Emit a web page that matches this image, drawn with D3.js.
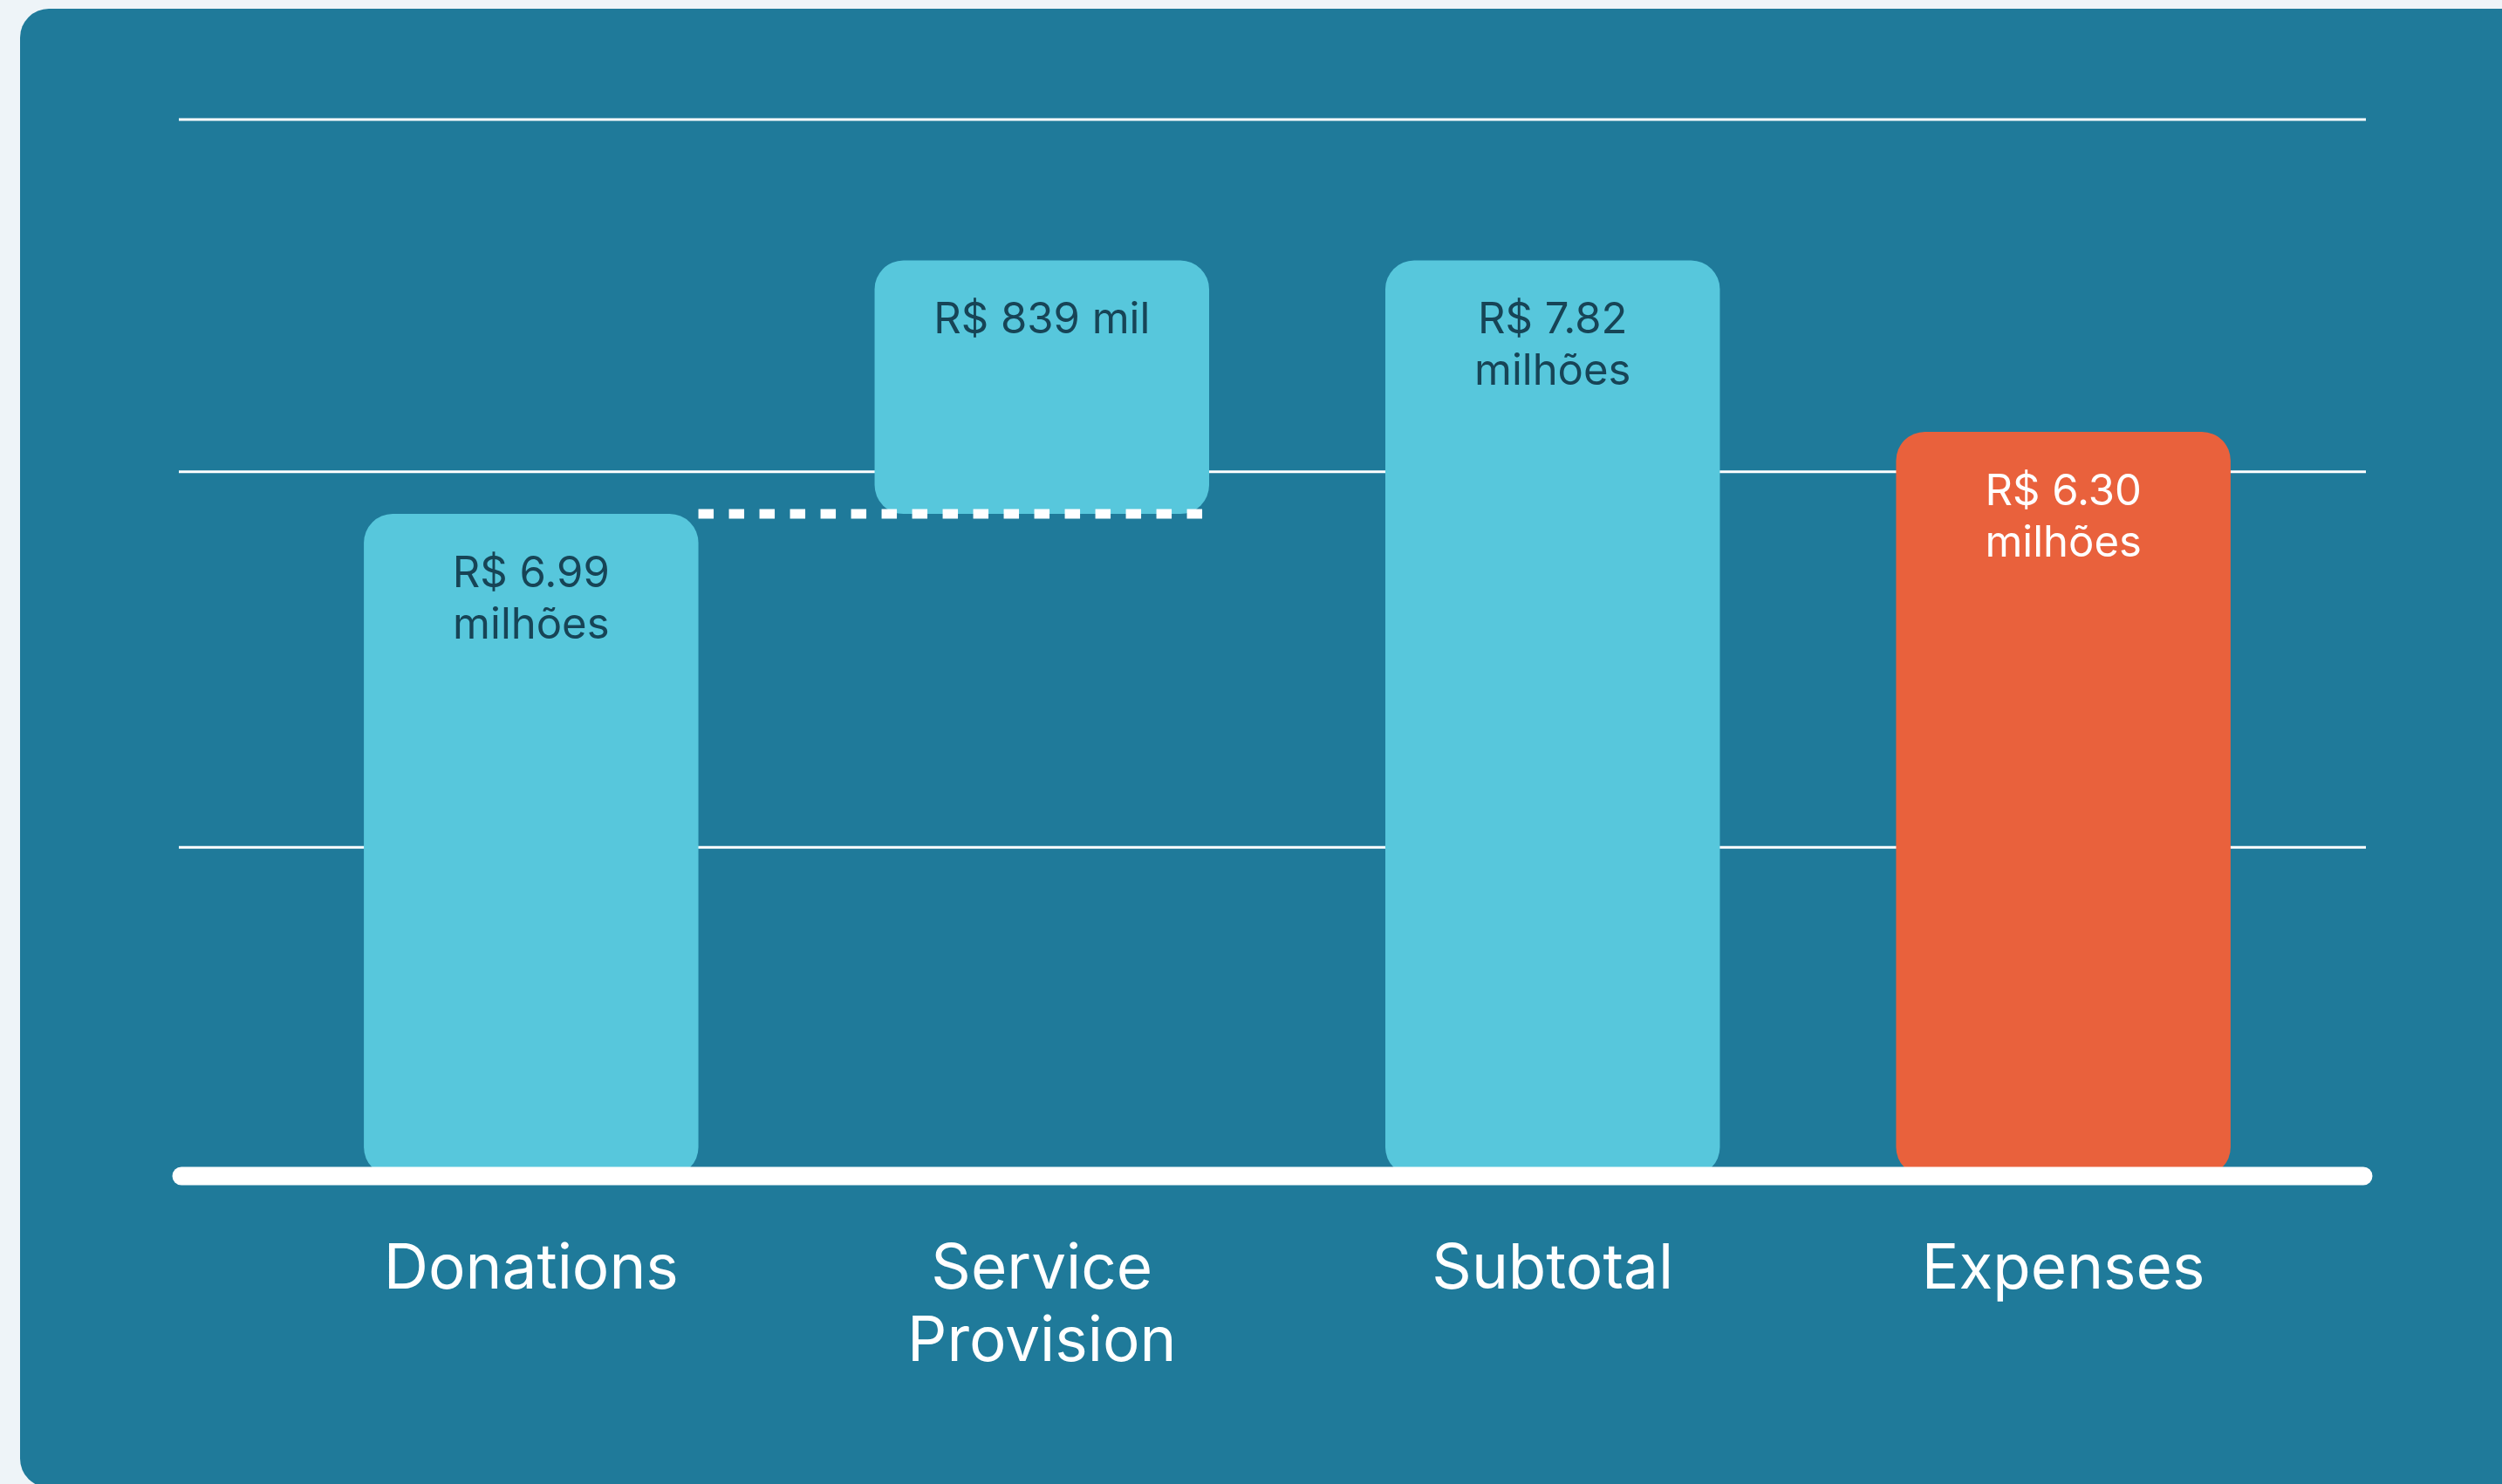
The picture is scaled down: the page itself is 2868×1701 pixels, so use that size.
<!DOCTYPE html>
<html>
<head>
<meta charset="utf-8">
<script src="https://cdn.jsdelivr.net/npm/d3@7"></script>
<style>
  html, body { margin: 0; padding: 0; background: #eef4f8; }
  svg { display: block; }
</style>
</head>
<body>
<div id="chart"></div>
<script>
const width = 2868;
const height = 1701;

// data
const categories = ["Donations", "Service Provision", "Subtotal", "Expenses"];
const amountLabels = [["R$ 6.99", "milhões"], ["R$ 839 mil"], ["R$ 7.82", "milhões"], ["R$ 6.30", "milhões"]];
// bar extents as drawn, read against the grid (R$ millions)
const barBase = [0, 5.64, 0, 0];
const barTop = [5.64, 7.8, 7.8, 6.34];
const gridValues = [2.8, 6, 9];

const bg = "#1f7a9a";
const light = "#57c7dc";
const orange = "#e9613c";
const darkText = "#174456";

const svg = d3.select("#chart").append("svg")
    .attr("width", width)
    .attr("height", height);

// card
svg.append("rect")
    .attr("x", 23).attr("y", 10)
    .attr("width", width + 40).attr("height", height - 6)
    .attr("rx", 33)
    .attr("fill", bg);

const x = d3.scaleBand()
    .domain(categories)
    .range([300, 2674])
    .paddingInner(0.345)
    .paddingOuter(0.2);

const y = d3.scaleLinear()
    .domain([0, 9])
    .range([1348, 137]);

// grid
svg.append("g").selectAll("line")
    .data(gridValues)
    .enter().append("line")
    .attr("x1", 205).attr("x2", 2712)
    .attr("y1", d => y(d)).attr("y2", d => y(d))
    .attr("stroke", "#ffffff")
    .attr("stroke-width", 3);

const data = categories.map((c, i) => ({
    name: c, base: barBase[i], top: barTop[i], label: amountLabels[i]
}));

svg.append("g").selectAll("rect")
    .data(data)
    .enter().append("rect")
    .attr("x", d => x(d.name))
    .attr("y", d => y(d.top))
    .attr("width", x.bandwidth())
    .attr("height", d => y(d.base) - y(d.top))
    .attr("rx", 33)
    .attr("fill", d => d.name === "Expenses" ? orange : light);

// dotted connector between Donations and Service Provision
svg.append("line")
    .attr("x1", x("Donations") + x.bandwidth())
    .attr("x2", x("Service Provision") + x.bandwidth())
    .attr("y1", y(barBase[1])).attr("y2", y(barBase[1]))
    .attr("stroke", "#ffffff")
    .attr("stroke-width", 11)
    .attr("stroke-dasharray", "17.5 17.5");

// baseline
svg.append("line")
    .attr("x1", 208).attr("x2", 2709)
    .attr("y1", y(0)).attr("y2", y(0))
    .attr("stroke", "#ffffff")
    .attr("stroke-width", 21)
    .attr("stroke-linecap", "round");

// value labels
const vl = svg.append("g").selectAll("text")
    .data(data)
    .enter().append("text")
    .attr("x", d => x(d.name) + x.bandwidth() / 2)
    .attr("y", d => y(d.top) + 84)
    .attr("text-anchor", "middle")
    .style("font-family", "Inter, 'Noto Sans', sans-serif")
    .style("font-size", "49px")
    .style("fill", d => d.name === "Expenses" ? "#ffffff" : darkText);

vl.selectAll("tspan")
    .data(d => d.label.map(t => ({ t, cx: x(d.name) + x.bandwidth() / 2 })))
    .enter().append("tspan")
    .attr("x", d => d.cx)
    .attr("dy", (d, i) => i ? 59 : 0)
    .text(d => d.t);

// category labels
const cl = svg.append("g").selectAll("text")
    .data(categories)
    .enter().append("text")
    .attr("x", d => x(d) + x.bandwidth() / 2)
    .attr("y", 1477)
    .attr("text-anchor", "middle")
    .style("font-family", "Inter, 'Noto Sans', sans-serif")
    .style("font-size", "71px")
    .style("fill", "#ffffff");

cl.selectAll("tspan")
    .data(d => d.split(" ").map(t => ({ t, cx: x(d) + x.bandwidth() / 2 })))
    .enter().append("tspan")
    .attr("x", d => d.cx)
    .attr("dy", (d, i) => i ? 83 : 0)
    .text(d => d.t);
</script>
</body>
</html>
